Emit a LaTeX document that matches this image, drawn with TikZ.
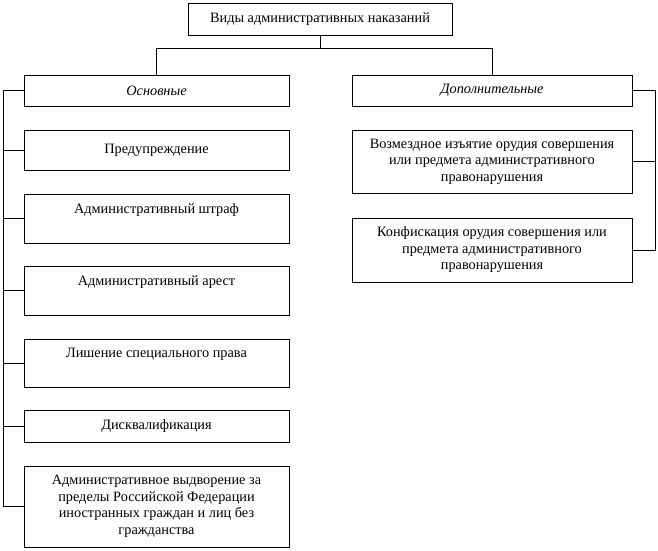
\documentclass[tikz,border=0pt]{standalone}
\usepackage{fontspec}
\setmainfont{Liberation Serif}
\begin{document}
\begin{tikzpicture}[x=1pt,y=-1pt,
        box/.style={draw, align=center, font=\fontsize{14.3}{16.5}\selectfont, inner sep=0pt},
        link/.style={draw, line width=.6pt}]
  \useasboundingbox (0,0) rectangle (658,550);
  % head
  \node[box, minimum width=264, minimum height=32] (top) at (320,19) {Виды административных наказаний};
  \node[box, minimum width=265, minimum height=31, font=\fontsize{14.3}{16.5}\selectfont\itshape] (osn) at (156.5,90.5) {Основные};
  \node[box, minimum width=280, minimum height=31, font=\fontsize{14.3}{16.5}\selectfont\itshape] (dop) at (492,90.5) {Дополнительные};
  \draw[link] (top.south) -- ++(0,13) coordinate (fork);
  \draw[link] (osn.north) |- (fork) -| (dop.north);

  % left column
  \node[box, minimum width=265, minimum height=40] (b1) at (156.5,150) {Предупреждение};
  \node[box, minimum width=265, minimum height=49, text depth=20pt] (b2) at (156.5,218.5) {Административный штраф};
  \node[box, minimum width=265, minimum height=49, text depth=20pt] (b3) at (156.5,290.5) {Административный арест};
  \node[box, minimum width=265, minimum height=48, text depth=20pt] (b4) at (156.5,363) {Лишение специального права};
  \node[box, minimum width=265, minimum height=32] (b5) at (156.5,426) {Дисквалификация};
  \node[box, minimum width=265, minimum height=81] (b6) at (156.5,506.5) {Административное выдворение за\\пределы Российской Федерации\\иностранных граждан и лиц без\\гражданства};
  \draw[link] (osn.west) -- ++(-21,0) coordinate (lx) |- (b6.west);
  \foreach \b in {b1,b2,b3,b4,b5}
    \draw[link] (\b.west) -- (\b.west -| lx);

  % right column
  \node[box, minimum width=280, minimum height=63] (r1) at (492,161.5) {Возмездное изъятие орудия совершения\\или предмета административного\\правонарушения};
  \node[box, minimum width=280, minimum height=64] (r2) at (492,250) {Конфискация орудия совершения или\\предмета административного\\правонарушения};
  \draw[link] (dop.east) -- ++(23,0) coordinate (rx) |- (r2.east);
  \draw[link] (r1.east) -- (r1.east -| rx);
\end{tikzpicture}
\end{document}
